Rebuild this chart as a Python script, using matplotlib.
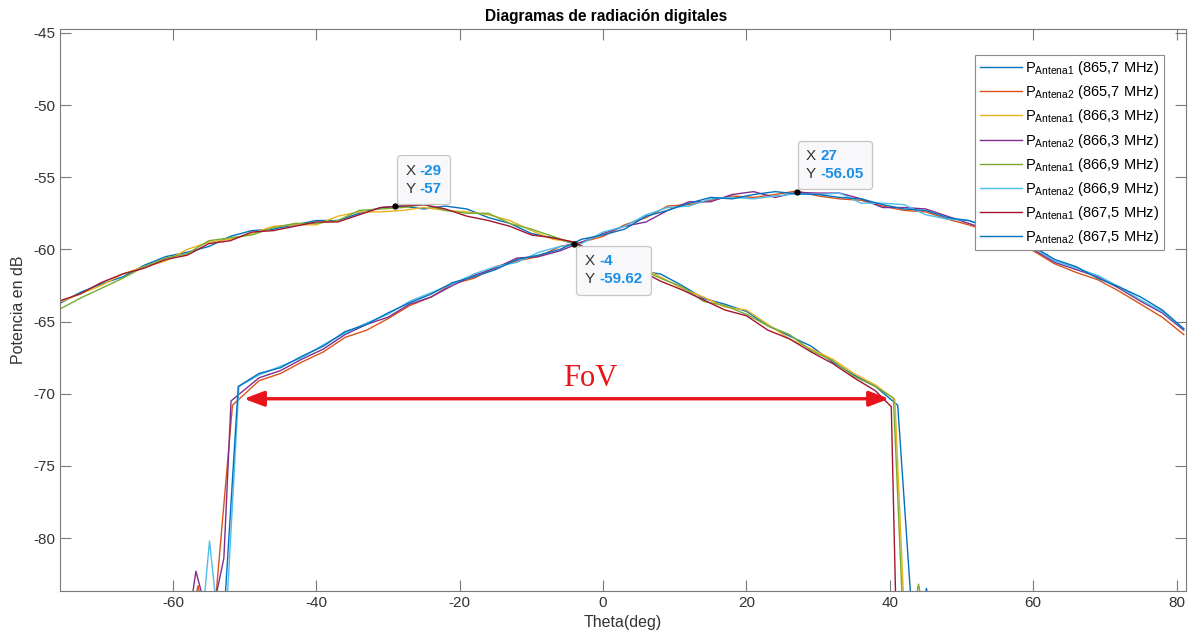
import numpy as np
import matplotlib
matplotlib.use("Agg")
import matplotlib.pyplot as plt
from matplotlib.offsetbox import TextArea, HPacker, VPacker, AnnotationBbox

plt.rcParams["font.family"] = ["Liberation Sans", "DejaVu Sans"]
plt.rcParams["mathtext.fontset"] = "custom"
plt.rcParams["mathtext.rm"] = "Liberation Sans"
plt.rcParams["axes.unicode_minus"] = False

# -------------------------
# Data
# -------------------------
# Antena1: main lobe on the left, grid -76..38 deg every 3 deg
theta_a1 = np.arange(-76, 39, 3)
base_a1 = [-63.8, -63.1, -62.4, -61.8, -61.2, -60.7, -60.2, -59.6, -59.2, -58.9,
           -58.6, -58.4, -58.2, -57.9, -57.5, -57.2, -57.0, -57.0, -57.1, -57.4,
           -57.8, -58.3, -58.8, -59.2, -59.6, -60.2, -60.8, -61.4, -61.9, -62.6,
           -63.4, -64.0, -64.4, -65.3, -66.1, -66.9, -67.8, -68.8, -69.6]
dev_a1_8657 = [0.0, 0.1, 0.0, -0.1, 0.1, 0.2, 0.0, -0.2, 0.1, 0.2, 0.0, 0.1, 0.2, -0.1, 0.0, 0.1, 0.0, -0.2, 0.1, 0.2,
               0.0, 0.1, -0.1, 0.0, 0.0, 0.1, 0.0, -0.1, 0.2, 0.1, 0.0, 0.2, 0.1, 0.0, 0.1, 0.2, 0.0, 0.1, 0.1]
dev_a1_8663 = [0.1, 0.0, -0.1, 0.1, 0.0, -0.1, 0.2, 0.1, -0.1, 0.0, 0.2, 0.1, -0.1, 0.2, 0.1, -0.2, -0.3, -0.1, -0.2, 0.0,
               0.2, 0.3, 0.1, -0.1, 0.1, -0.2, 0.1, 0.2, 0.0, -0.1, 0.1, 0.0, 0.2, 0.1, -0.1, 0.0, 0.2, 0.2, 0.2]
dev_a1_8669 = [-0.4, -0.3, -0.3, -0.2, 0.0, 0.1, -0.1, 0.2, 0.0, -0.1, 0.1, 0.2, 0.0, -0.1, 0.2, 0.0, -0.1, 0.1, -0.2, -0.1,
               0.3, 0.1, 0.2, 0.1, 0.0, 0.0, -0.2, 0.1, -0.1, 0.0, -0.2, 0.1, -0.1, 0.0, 0.2, -0.1, 0.1, 0.0, 0.1]
dev_a1_8675 = [0.2, 0.0, 0.1, 0.1, -0.1, 0.0, -0.2, 0.0, -0.2, 0.1, -0.1, 0.0, 0.1, -0.2, -0.1, 0.1, 0.0, 0.1, -0.1, -0.3,
               -0.2, -0.1, -0.2, 0.0, 0.1, -0.1, -0.2, 0.0, -0.3, -0.2, -0.1, -0.2, -0.2, -0.3, -0.1, -0.2, -0.1, -0.1, -0.2]
# right edge of Antena1 (shelf + drop to the floor)
tail_a1_8657_x = [41.1, 42.9, 44.9, 45.1, 45.3]
tail_a1_8657_y = [-70.8, -84.0, -84.0, -83.5, -84.0]
tail_a1_8663_x = [40.7, 41.9]
tail_a1_8663_y = [-70.4, -84.0]
tail_a1_8669_x = [40.5, 41.7, 43.7, 44.0, 44.3]
tail_a1_8669_y = [-70.3, -84.0, -84.0, -83.2, -84.0]
tail_a1_8675_x = [40.2, 40.8]
tail_a1_8675_y = [-70.9, -84.0]

# Antena2: main lobe on the right, grid -48..81 deg every 3 deg
theta_a2 = np.arange(-48, 82, 3)
base_a2 = [-68.8, -68.3, -67.6, -66.8, -65.9, -65.3, -64.6, -63.8, -63.1, -62.4,
           -61.9, -61.3, -60.8, -60.4, -59.9, -59.5, -59.0, -58.4, -57.8, -57.2,
           -56.8, -56.6, -56.4, -56.3, -56.2, -56.05, -56.2, -56.3, -56.6, -56.9,
           -57.1, -57.4, -57.8, -58.1, -58.7, -59.3, -60.0, -60.8, -61.4, -62.0,
           -62.7, -63.5, -64.4, -65.6]
dev_a2_8657 = [-0.3, -0.3, -0.2, -0.3, -0.2, -0.3, -0.2, -0.1, -0.2, 0.0, -0.1, 0.1, 0.0, -0.1, 0.1, 0.0, -0.1, 0.1, 0.0, 0.2,
               -0.1, 0.0, 0.1, -0.1, 0.0, 0.1, -0.1, -0.2, 0.0, -0.1, -0.2, 0.0, -0.1, -0.2, -0.1, -0.2, -0.1, -0.2, -0.2, -0.1,
               -0.2, -0.3, -0.3, -0.3]
dev_a2_8663 = [-0.1, -0.1, 0.0, -0.1, 0.0, 0.1, -0.1, 0.0, -0.2, -0.1, 0.1, 0.0, 0.2, -0.1, -0.2, 0.0, 0.1, 0.0, -0.3, -0.1,
               0.1, -0.1, 0.2, 0.3, -0.2, 0.0, 0.1, 0.2, 0.1, -0.2, 0.0, 0.2, 0.1, -0.1, 0.0, 0.1, 0.0, -0.1, 0.0, 0.1,
               0.0, -0.1, 0.0, 0.0]
dev_a2_8669 = [0.1, 0.2, 0.1, 0.2, 0.1, 0.2, 0.1, 0.2, 0.1, 0.0, 0.2, 0.1, -0.1, 0.2, 0.1, -0.1, 0.2, 0.0, 0.2, 0.1,
               -0.2, 0.1, 0.0, -0.2, -0.1, -0.1, 0.0, 0.2, -0.2, 0.1, 0.2, -0.2, -0.1, 0.1, 0.2, 0.0, 0.1, 0.0, 0.1, 0.2,
               0.1, 0.0, 0.1, 0.1]
dev_a2_8675 = [0.2, 0.1, 0.2, 0.1, 0.2, 0.1, 0.2, 0.1, 0.0, 0.1, 0.0, -0.1, 0.1, 0.0, -0.1, 0.2, 0.0, -0.2, 0.1, -0.1,
               0.0, 0.2, -0.1, 0.1, 0.2, -0.1, 0.0, -0.1, 0.1, 0.0, -0.1, 0.1, 0.0, 0.1, 0.2, 0.1, 0.2, 0.1, 0.2, 0.0,
               0.1, 0.2, 0.2, 0.1]
# left edge of Antena2 (noise spikes + rise from the floor)
head_a2_8657_x = [-56.8, -56.5, -56.2, -54.0, -51.7]
head_a2_8657_y = [-84.0, -83.3, -84.0, -84.0, -70.8]
head_a2_8663_x = [-57.3, -56.8, -55.9, -54.0, -52.9, -51.9]
head_a2_8663_y = [-84.0, -82.3, -84.0, -84.0, -81.4, -70.5]
head_a2_8669_x = [-55.6, -54.9, -54.1, -52.4, -50.8]
head_a2_8669_y = [-84.0, -80.2, -84.0, -84.0, -69.5]
head_a2_8675_x = [-52.7, -50.9]
head_a2_8675_y = [-84.0, -69.5]

legend_labels = [
    r"P$_{\mathrm{Antena1}}$ (865,7 MHz)", r"P$_{\mathrm{Antena2}}$ (865,7 MHz)",
    r"P$_{\mathrm{Antena1}}$ (866,3 MHz)", r"P$_{\mathrm{Antena2}}$ (866,3 MHz)",
    r"P$_{\mathrm{Antena1}}$ (866,9 MHz)", r"P$_{\mathrm{Antena2}}$ (866,9 MHz)",
    r"P$_{\mathrm{Antena1}}$ (867,5 MHz)", r"P$_{\mathrm{Antena2}}$ (867,5 MHz)",
]
colors = ["#0072BD", "#D95319", "#EDB120", "#7E2F8E",
          "#77AC30", "#4DBEEE", "#A2142F", "#0072BD"]

# data tips: (x, y)
tips = [(-29, -57.0), (27, -56.05), (-4, -59.62)]
tip_labels = [("-29", "-57"), ("27", "-56.05"), ("-4", "-59.62")]

fov_from, fov_to, fov_level = -50.1, 39.9, -70.35


def a1_series(dev, tx, ty):
    x = np.concatenate([theta_a1, tx])
    y = np.concatenate([np.array(base_a1) + np.array(dev), ty])
    return x, y


def a2_series(dev, hx, hy):
    x = np.concatenate([hx, theta_a2])
    y = np.concatenate([hy, np.array(base_a2) + np.array(dev)])
    return x, y


series = [
    a1_series(dev_a1_8657, tail_a1_8657_x, tail_a1_8657_y),
    a2_series(dev_a2_8657, head_a2_8657_x, head_a2_8657_y),
    a1_series(dev_a1_8663, tail_a1_8663_x, tail_a1_8663_y),
    a2_series(dev_a2_8663, head_a2_8663_x, head_a2_8663_y),
    a1_series(dev_a1_8669, tail_a1_8669_x, tail_a1_8669_y),
    a2_series(dev_a2_8669, head_a2_8669_x, head_a2_8669_y),
    a1_series(dev_a1_8675, tail_a1_8675_x, tail_a1_8675_y),
    a2_series(dev_a2_8675, head_a2_8675_x, head_a2_8675_y),
]

# -------------------------
# Figure
# -------------------------
fig = plt.figure(figsize=(11.88, 6.41), dpi=100)
ax = fig.add_axes([0.0505, 0.078, 0.9475, 0.877])

for (x, y), c, lab in zip(series, colors, legend_labels):
    ax.plot(x, y, color=c, lw=1.0, label=lab)

ax.set_xlim(-75.76, 81.26)
ax.set_ylim(-83.67, -44.72)
ax.set_xticks(np.arange(-60, 81, 20))
ax.set_yticks(np.arange(-80, -44, 5))

axis_grey = "#333333"
for s in ax.spines.values():
    s.set_color("#7a7a7a")
    s.set_linewidth(0.8)
ax.tick_params(direction="in", length=8, width=0.8, colors="#7a7a7a",
               labelcolor=axis_grey, labelsize=11, top=True, right=True)
ax.set_xlabel("Theta(deg)", fontsize=11.5, color=axis_grey, labelpad=4)
ax.set_ylabel("Potencia en dB", fontsize=11.5, color=axis_grey, labelpad=5)
ax.set_title("Diagramas de radiación digitales", fontsize=11.2, fontweight="bold",
             color="black", x=0.485, pad=6)

leg = ax.legend(loc="upper right", bbox_to_anchor=(0.9804, 0.9537), borderaxespad=0,
                fontsize=10.5, fancybox=False, framealpha=1, edgecolor="#8c8c8c",
                handlelength=2.9, handletextpad=0.2, labelspacing=0.42,
                borderpad=0.3)
leg.get_frame().set_linewidth(0.8)

# FoV arrow
ax.annotate("", xy=(fov_to, fov_level), xytext=(fov_from, fov_level),
            arrowprops=dict(arrowstyle="<|-|>,head_length=1.0,head_width=0.38",
                            color="#e8141b", lw=2.4, shrinkA=0, shrinkB=0,
                            mutation_scale=12))
ax.text(-1.8, -68.95, "FoV", color="#e8141b", fontsize=22,
        family=["Liberation Serif"], ha="center", va="center")

# data tips: content offset (points) from the marked point, and alignment
offsets = [((7.4, 7.4), (0, 0)), ((6.7, 8.1), (0, 0)), ((7.4, -7.4), (0, 1))]
for (tx, ty), (sx, sy), (off, align) in zip(tips, tip_labels, offsets):
    ax.plot(tx, ty, "o", color="black", ms=3.5, zorder=5)
    rows = []
    for key, val in (("X", sx), ("Y", sy)):
        k = TextArea(key, textprops=dict(color="#333333", fontsize=11))
        v = TextArea(val, textprops=dict(color="#1a8fe8", fontsize=11, fontweight="bold"))
        rows.append(HPacker(children=[k, v], align="baseline", pad=0, sep=3))
    box = VPacker(children=rows, align="left", pad=0, sep=3)
    ab = AnnotationBbox(box, (tx, ty), xybox=off, xycoords="data",
                        boxcoords="offset points", box_alignment=align,
                        pad=0, frameon=True,
                        bboxprops=dict(boxstyle="round,pad=0.6,rounding_size=0.25",
                                       fc="#f8f8fa", ec="#c6c6c6", lw=0.9))
    ab.set_zorder(6)
    ax.add_artist(ab)

fig.savefig("out.png", dpi=100)
